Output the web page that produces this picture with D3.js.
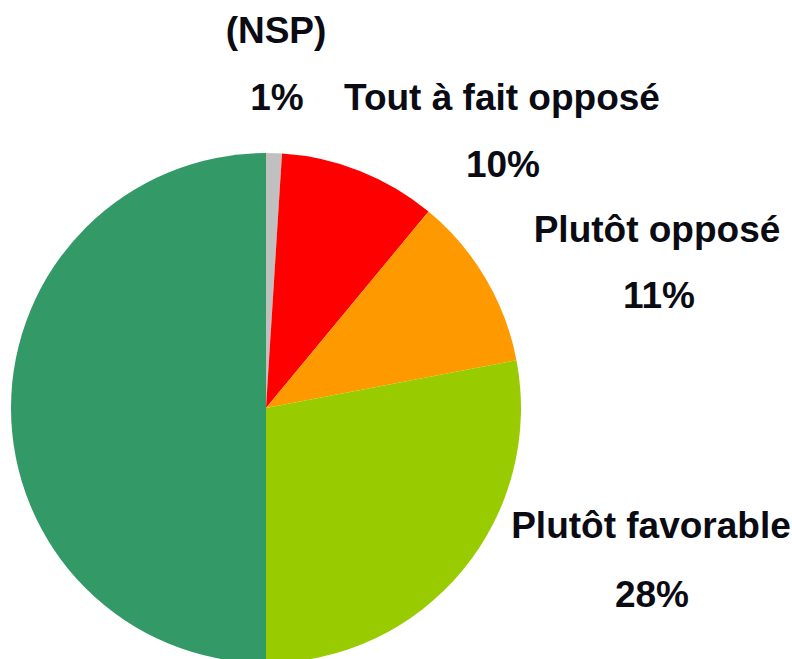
<!DOCTYPE html>
<html>
<head>
<meta charset="utf-8">
<script src="https://cdn.jsdelivr.net/npm/d3@7"></script>
<style>
  body { margin: 0; background: #fff; }
  text { font-family: "Liberation Sans", Arial, sans-serif; font-weight: bold; fill: #0b0b14; }
</style>
</head>
<body>
<div id="chart"></div>
<script>
(function() {
  // données du sondage
  const categories = ['(NSP)', 'Tout à fait opposé', 'Plutôt opposé', 'Plutôt favorable', 'Très favorable'];
  const values = [1, 10, 11, 28, 50];
  const colors = ['#c0c0c0', '#ff0000', '#ff9900', '#99cc00', '#339966'];
  const showLabel = [true, true, true, true, false];

  // positions des étiquettes (centre du nom, centre du pourcentage)
  const labelPos = [
    { name: [276, 43], pct: [277, 110] },
    { name: [502, 110], pct: [503, 177] },
    { name: [657, 242], pct: [659, 308] },
    { name: [651, 538], pct: [652, 607] },
    null
  ];

  const width = 792, height = 659;
  const center = { x: 266, y: 408 };
  const radius = 255;

  const svg = d3.select('#chart')
    .append('svg')
    .attr('width', width)
    .attr('height', height);

  const data = categories.map((c, i) => ({ name: c, value: values[i], color: colors[i] }));

  const pie = d3.pie()
    .sort(null)
    .value(d => d.value);

  const arc = d3.arc()
    .innerRadius(0)
    .outerRadius(radius);

  svg.append('g')
    .attr('transform', `translate(${center.x}, ${center.y})`)
    .selectAll('path')
    .data(pie(data))
    .enter()
    .append('path')
      .attr('d', arc)
      .attr('fill', d => d.data.color);

  const labels = svg.append('g');
  data.forEach((d, i) => {
    if (!showLabel[i]) return;
    const p = labelPos[i];
    labels.append('text')
      .attr('x', p.name[0])
      .attr('y', p.name[1])
      .attr('text-anchor', 'middle')
      .attr('font-size', 37)
      .text(d.name);
    labels.append('text')
      .attr('x', p.pct[0])
      .attr('y', p.pct[1])
      .attr('text-anchor', 'middle')
      .attr('font-size', 37)
      .text(d.value + '%');
  });
}());
</script>
</body>
</html>
